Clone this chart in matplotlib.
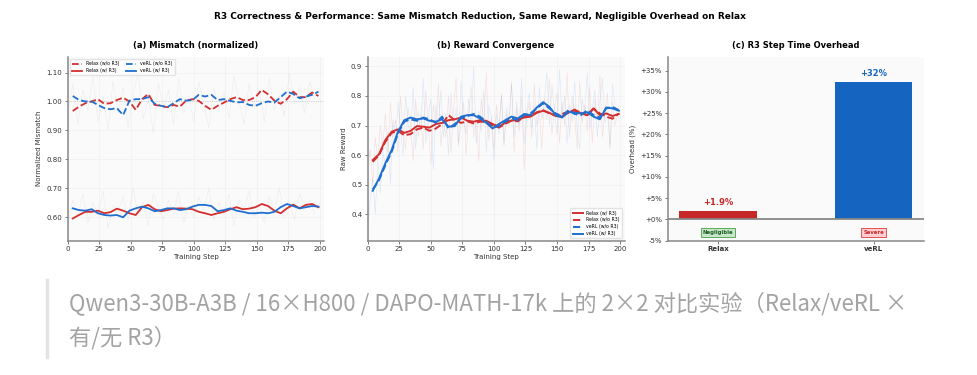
import numpy as np
import matplotlib
matplotlib.use("Agg")
import matplotlib.pyplot as plt
from matplotlib.ticker import FuncFormatter

# smoothed curves, sampled every 5 steps
steps = list(range(4, 200, 5))

mm_relax_wo = [0.967, 0.982, 0.994, 1.000, 1.008, 0.992, 0.994, 1.005, 1.013, 1.000,
               0.971, 1.008, 1.026, 0.988, 0.985, 0.980, 0.988, 0.982, 1.003, 1.008,
               1.002, 0.985, 0.971, 0.985, 0.996, 1.008, 1.015, 1.005, 1.005, 1.015,
               1.040, 1.025, 1.003, 0.992, 1.008, 1.034, 1.015, 1.015, 1.031, 1.019]
mm_verl_wo = [1.019, 1.005, 1.000, 1.000, 0.988, 0.977, 0.973, 0.977, 0.953, 1.003,
              1.008, 1.008, 1.015, 0.992, 0.985, 0.980, 0.994, 1.008, 1.003, 1.005,
              1.023, 1.017, 1.023, 1.005, 1.008, 1.002, 0.997, 0.998, 0.988, 0.985,
              0.994, 1.000, 0.996, 1.015, 1.034, 1.026, 1.011, 1.017, 1.023, 1.034]
mm_relax_w = [0.595, 0.607, 0.618, 0.618, 0.622, 0.613, 0.617, 0.629, 0.622, 0.613,
              0.607, 0.634, 0.642, 0.627, 0.620, 0.624, 0.629, 0.630, 0.629, 0.627,
              0.618, 0.613, 0.607, 0.613, 0.618, 0.627, 0.634, 0.627, 0.629, 0.634,
              0.645, 0.638, 0.622, 0.613, 0.630, 0.643, 0.630, 0.642, 0.645, 0.634]
mm_verl_w = [0.630, 0.624, 0.622, 0.627, 0.613, 0.607, 0.605, 0.607, 0.599, 0.622,
             0.630, 0.636, 0.630, 0.620, 0.624, 0.630, 0.630, 0.624, 0.627, 0.636,
             0.642, 0.642, 0.638, 0.620, 0.624, 0.630, 0.622, 0.618, 0.613, 0.613,
             0.615, 0.613, 0.618, 0.634, 0.645, 0.638, 0.630, 0.634, 0.638, 0.636]

rw_relax_w = [0.583, 0.603, 0.651, 0.679, 0.687, 0.675, 0.682, 0.698, 0.696, 0.693,
              0.705, 0.709, 0.718, 0.721, 0.727, 0.716, 0.713, 0.718, 0.716, 0.705,
              0.696, 0.709, 0.716, 0.721, 0.727, 0.730, 0.743, 0.750, 0.743, 0.732,
              0.730, 0.743, 0.754, 0.741, 0.735, 0.758, 0.735, 0.741, 0.732, 0.739]
rw_relax_wo = [0.577, 0.600, 0.645, 0.675, 0.682, 0.667, 0.671, 0.687, 0.693, 0.682,
               0.690, 0.705, 0.735, 0.718, 0.709, 0.714, 0.707, 0.713, 0.712, 0.700,
               0.693, 0.705, 0.718, 0.714, 0.730, 0.734, 0.745, 0.752, 0.741, 0.735,
               0.739, 0.747, 0.750, 0.745, 0.735, 0.757, 0.741, 0.730, 0.723, 0.741]
rw_verl_wo = [0.484, 0.515, 0.566, 0.611, 0.673, 0.713, 0.721, 0.716, 0.727, 0.721,
              0.709, 0.730, 0.690, 0.705, 0.724, 0.732, 0.739, 0.730, 0.713, 0.693,
              0.698, 0.713, 0.724, 0.718, 0.735, 0.741, 0.758, 0.775, 0.758, 0.741,
              0.730, 0.752, 0.739, 0.735, 0.752, 0.735, 0.727, 0.758, 0.763, 0.752]
rw_verl_w = [0.479, 0.521, 0.572, 0.617, 0.679, 0.718, 0.727, 0.721, 0.724, 0.716,
             0.713, 0.721, 0.696, 0.698, 0.730, 0.735, 0.735, 0.724, 0.709, 0.690,
             0.705, 0.718, 0.730, 0.724, 0.739, 0.735, 0.761, 0.779, 0.763, 0.735,
             0.727, 0.747, 0.743, 0.741, 0.745, 0.730, 0.721, 0.761, 0.758, 0.750]

# raw (unsmoothed) traces, faint in the background
raw_steps_a = list(range(0, 200, 4))
raw_mm_hi = [0.95, 1.06, 0.92, 1.04, 0.97, 1.09, 0.93, 1.02, 0.90, 1.07,
             0.96, 1.05, 0.91, 1.03, 1.10, 0.94, 1.01, 0.89, 1.06, 0.98,
             1.04, 0.92, 1.08, 0.96, 1.02, 0.93, 1.07, 0.99, 0.91, 1.05,
             0.97, 1.03, 0.94, 1.09, 1.00, 0.92, 1.06, 0.98, 1.04, 0.93,
             1.08, 0.97, 1.02, 0.95, 1.10, 0.99, 1.05, 0.96, 1.07, 1.01]
raw_mm_lo = [0.57, 0.66, 0.60, 0.68, 0.58, 0.65, 0.61, 0.69, 0.56, 0.64,
             0.62, 0.67, 0.59, 0.70, 0.60, 0.65, 0.57, 0.68, 0.63, 0.59,
             0.66, 0.61, 0.69, 0.58, 0.64, 0.60, 0.67, 0.62, 0.70, 0.59,
             0.65, 0.61, 0.68, 0.57, 0.66, 0.63, 0.69, 0.60, 0.64, 0.58,
             0.67, 0.62, 0.70, 0.60, 0.65, 0.59, 0.68, 0.63, 0.66, 0.61]

raw_steps_b = list(range(0, 200, 2))
raw_rw_relax = [0.55, 0.62, 0.50, 0.66, 0.58, 0.70, 0.63, 0.74, 0.60, 0.78,
                0.66, 0.72, 0.61, 0.80, 0.68, 0.62, 0.76, 0.70, 0.58, 0.79,
                0.66, 0.74, 0.62, 0.82, 0.70, 0.57, 0.77, 0.68, 0.84, 0.63,
                0.72, 0.66, 0.80, 0.61, 0.75, 0.86, 0.64, 0.71, 0.78, 0.60,
                0.74, 0.83, 0.66, 0.72, 0.58, 0.79, 0.70, 0.88, 0.65, 0.73,
                0.62, 0.77, 0.69, 0.81, 0.64, 0.74, 0.70, 0.85, 0.61, 0.76,
                0.68, 0.80, 0.55, 0.73, 0.78, 0.66, 0.84, 0.70, 0.75, 0.62,
                0.79, 0.72, 0.86, 0.67, 0.76, 0.81, 0.64, 0.78, 0.70, 0.88,
                0.66, 0.80, 0.73, 0.62, 0.85, 0.71, 0.77, 0.68, 0.83, 0.64,
                0.79, 0.72, 0.87, 0.66, 0.75, 0.81, 0.62, 0.78, 0.70, 0.74]
raw_rw_verl = [0.36, 0.45, 0.52, 0.40, 0.58, 0.47, 0.62, 0.55, 0.68, 0.50,
               0.72, 0.64, 0.78, 0.69, 0.60, 0.80, 0.71, 0.66, 0.83, 0.62,
               0.75, 0.68, 0.86, 0.64, 0.73, 0.79, 0.55, 0.77, 0.70, 0.82,
               0.66, 0.74, 0.60, 0.81, 0.69, 0.76, 0.63, 0.85, 0.72, 0.67,
               0.79, 0.70, 0.90, 0.64, 0.75, 0.68, 0.82, 0.61, 0.77, 0.73,
               0.58, 0.74, 0.67, 0.80, 0.63, 0.76, 0.71, 0.84, 0.66, 0.78,
               0.70, 0.86, 0.64, 0.75, 0.81, 0.69, 0.77, 0.62, 0.83, 0.72,
               0.79, 0.88, 0.70, 0.84, 0.75, 0.67, 0.89, 0.73, 0.80, 0.64,
               0.77, 0.71, 0.85, 0.68, 0.62, 0.79, 0.74, 0.88, 0.69, 0.76,
               0.82, 0.66, 0.78, 0.86, 0.71, 0.75, 0.63, 0.84, 0.77, 0.73]

frameworks = ["Relax", "veRL"]
overhead = [1.9, 32.3]
overhead_labels = ["+1.9%", "+32%"]
verdicts = ["Negligible", "Severe"]

caption_l1 = "Qwen3-30B-A3B / 16×H800 / DAPO-MATH-17k 上的 2×2 对比实验（Relax/veRL ×"
caption_l2 = "有/无 R3）"

RED = "#d32f2f"
BLUE = "#1e6fcf"

W, H = 978, 375
fig = plt.figure(figsize=(W / 100, H / 100), dpi=100)


def rect(x0, x1, y0, y1):
    return [x0 / W, 1 - y1 / H, (x1 - x0) / W, (y1 - y0) / H]


def style(ax):
    ax.set_facecolor("#fafafa")
    for s in ["top", "right"]:
        ax.spines[s].set_visible(False)
    for s in ["left", "bottom"]:
        ax.spines[s].set_color("#888888")
        ax.spines[s].set_linewidth(1.1)
    ax.tick_params(labelsize=5, length=2, width=0.6, color="#666666", labelcolor="#333333", pad=2)
    ax.grid(True, color="#f0f0f0", linewidth=0.5)
    ax.set_axisbelow(True)


ax1 = fig.add_axes(rect(67.7, 323.5, 56.7, 240.7))
ax2 = fig.add_axes(rect(367.7, 624.5, 56.7, 240.7))
ax3 = fig.add_axes(rect(667.7, 924.0, 56.7, 240.7))
for ax in (ax1, ax2, ax3):
    style(ax)

# (a) mismatch
ax1.plot(raw_steps_a, raw_mm_hi, color="#999999", lw=0.4, alpha=0.15)
ax1.plot(raw_steps_a, raw_mm_lo, color="#999999", lw=0.4, alpha=0.15)
ax1.axhline(1.0, color="#bbbbbb", lw=0.6, ls=":", alpha=0.8)
ax1.plot(steps, mm_relax_wo, color=RED, lw=1.3, ls="--", label="Relax (w/o R3)")
ax1.plot(steps, mm_relax_w, color=RED, lw=1.3, label="Relax (w/ R3)")
ax1.plot(steps, mm_verl_wo, color=BLUE, lw=1.3, ls="--", label="veRL (w/o R3)")
ax1.plot(steps, mm_verl_w, color=BLUE, lw=1.3, label="veRL (w/ R3)")
ax1.set_xlim(0, 203)
ax1.set_ylim(0.518, 1.155)
ax1.set_xticks(range(0, 201, 25))
ax1.set_yticks([0.6, 0.7, 0.8, 0.9, 1.0, 1.1])
ax1.yaxis.set_major_formatter(FuncFormatter(lambda v, p: f"{v:.2f}"))
ax1.set_xlabel("Training Step", fontsize=5, labelpad=1, color="#333333")
ax1.set_ylabel("Normalized Mismatch", fontsize=5, labelpad=3, color="#333333")
ax1.set_title("(a) Mismatch (normalized)", fontsize=6, fontweight="bold", pad=6)
ax1.legend(loc="upper left", ncol=2, fontsize=3.3, frameon=True, handlelength=2.2,
           columnspacing=1.5, borderpad=0.5, labelspacing=0.4, edgecolor="#dddddd")

# (b) reward
ax2.plot(raw_steps_b, raw_rw_relax, color=RED, lw=0.4, alpha=0.15)
ax2.plot(raw_steps_b, raw_rw_verl, color=BLUE, lw=0.4, alpha=0.15)
ax2.plot(steps, rw_relax_w, color=RED, lw=1.4, label="Relax (w/ R3)")
ax2.plot(steps, rw_relax_wo, color=RED, lw=1.4, ls="--", label="Relax (w/o R3)")
ax2.plot(steps, rw_verl_wo, color=BLUE, lw=1.4, ls="--", label="veRL (w/o R3)")
ax2.plot(steps, rw_verl_w, color=BLUE, lw=1.4, label="veRL (w/ R3)")
ax2.set_xlim(0, 203.5)
ax2.set_ylim(0.31, 0.933)
ax2.set_xticks(range(0, 201, 25))
ax2.set_yticks([0.4, 0.5, 0.6, 0.7, 0.8, 0.9])
ax2.set_xlabel("Training Step", fontsize=5, labelpad=1, color="#333333")
ax2.set_ylabel("Raw Reward", fontsize=5, labelpad=3, color="#333333")
ax2.set_title("(b) Reward Convergence", fontsize=6, fontweight="bold", pad=6)
ax2.legend(loc="lower right", fontsize=3.3, frameon=True, handlelength=2.2,
           borderpad=0.5, labelspacing=0.4, edgecolor="#dddddd")

# (c) overhead
ax3.grid(False)
bar_colors = ["#c62828", "#1565c0"]
ax3.bar(frameworks, overhead, width=0.5, color=bar_colors)
ax3.axhline(0, color="#888888", lw=1.3)
for i, (v, lab) in enumerate(zip(overhead, overhead_labels)):
    ax3.text(i, v + 1.0, lab, ha="center", va="bottom", fontsize=6, fontweight="bold",
             color=bar_colors[i])
box_styles = [("#c8e6c9", "#43a047", "#1b5e20"), ("#ffcdd2", "#e53935", "#c62828")]
for i, txt in enumerate(verdicts):
    fc, ec, tc = box_styles[i]
    ax3.text(i, -3.1, txt, ha="center", va="center", fontsize=3.8, fontweight="bold", color=tc,
             bbox=dict(boxstyle="square,pad=0.35", fc=fc, ec=ec, lw=0.6))
ax3.set_ylim(-5, 38.3)
ax3.set_yticks(range(-5, 36, 5))
ax3.yaxis.set_major_formatter(FuncFormatter(lambda v, p: f"{v:+.0f}%"))
ax3.set_ylabel("Overhead (%)", fontsize=5, labelpad=3, color="#333333")
ax3.set_title("(c) R3 Step Time Overhead", fontsize=6, fontweight="bold", pad=6)
for lab in ax3.get_xticklabels():
    lab.set_fontweight("bold")

fig.suptitle("R3 Correctness & Performance: Same Mismatch Reduction, Same Reward, "
             "Negligible Overhead on Relax", fontsize=6.5, fontweight="bold", x=0.491, y=0.968)

# caption block below the chart
fig.add_artist(plt.Line2D([47.5 / W, 47.5 / W], [1 - 280 / H, 1 - 357 / H], color="#e3e3e3", lw=2.5))
cap_font = dict(fontsize=16, color="#a3a3a3", ha="left", va="center",
                family=["Noto Sans CJK SC", "DejaVu Sans"])
fig.text(69 / W, 1 - 303 / H, caption_l1, **cap_font)
fig.text(69 / W, 1 - 338 / H, caption_l2, **cap_font)

fig.savefig("out.png", dpi=100, facecolor="white")
